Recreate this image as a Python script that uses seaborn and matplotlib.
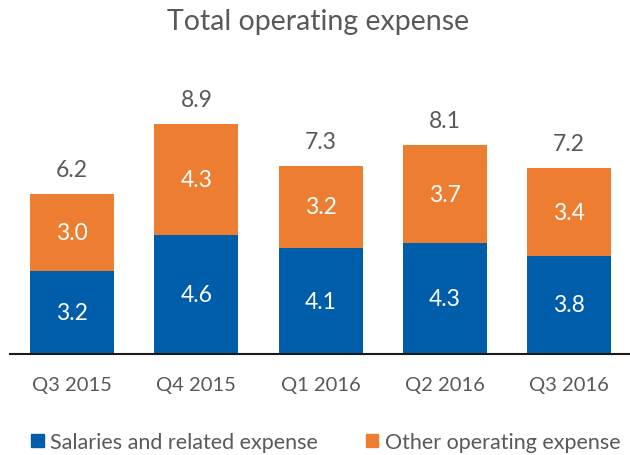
import matplotlib
matplotlib.use("Agg")
import matplotlib.pyplot as plt
import seaborn as sns
import pandas as pd
from matplotlib.patches import Patch

quarters = ["Q3 2015", "Q4 2015", "Q1 2016", "Q2 2016", "Q3 2016"]
salaries = [3.2, 4.6, 4.1, 4.3, 3.8]
other = [3.0, 4.3, 3.2, 3.7, 3.4]
totals = [6.2, 8.9, 7.3, 8.1, 7.2]

BLUE = "#005DAA"
ORANGE = "#ED7D31"
GRAY = "#595959"

sns.set_theme(style="white")
plt.rcParams["font.family"] = ["Lato", "DejaVu Sans"]

df = pd.DataFrame({"quarter": quarters, "salaries": salaries,
                   "other": other, "total": totals})

fig = plt.figure(figsize=(6.3, 4.56), dpi=100)
ax = fig.add_axes([0.016, 0.2215, 0.9857, 0.5658])

sns.barplot(data=df, x="quarter", y="total", color=ORANGE, width=0.676,
            saturation=1, ax=ax, linewidth=0)
sns.barplot(data=df, x="quarter", y="salaries", color=BLUE, width=0.676,
            saturation=1, ax=ax, linewidth=0)

for i, (s, o, t) in enumerate(zip(salaries, other, totals)):
    ax.text(i, s / 2, f"{s:.1f}", ha="center", va="center", color="white", fontsize=16.5)
    ax.text(i, (s + t) / 2, f"{o:.1f}", ha="center", va="center", color="white", fontsize=16.5)
    ax.text(i, t + 0.95, f"{t:.1f}", ha="center", va="center", color=GRAY, fontsize=16.5)

ax.set_xlim(-0.5, 4.5)
ax.set_ylim(0, 10)
ax.set_xlabel("")
ax.set_ylabel("")
ax.set_yticks([])
for sp in ["top", "left", "right"]:
    ax.spines[sp].set_visible(False)
ax.spines["bottom"].set_color("#1a1a1a")
ax.spines["bottom"].set_linewidth(1.5)
ax.tick_params(axis="x", length=0, pad=16, labelsize=14.5, labelcolor=GRAY)

fig.text(0.505, 0.951, "Total operating expense", ha="center", va="center",
         fontsize=20.5, color=GRAY)

handles = [Patch(color=BLUE, label="Salaries and related expense"),
           Patch(color=ORANGE, label="Other operating expense")]
fig.legend(handles=handles, loc="center", bbox_to_anchor=(0.517, 0.028),
           ncol=2, frameon=False, fontsize=15.5, labelcolor=GRAY,
           handlelength=0.6, handleheight=0.6, handletextpad=0.3,
           columnspacing=2.2, borderpad=0)

fig.savefig("out.png", dpi=100)
